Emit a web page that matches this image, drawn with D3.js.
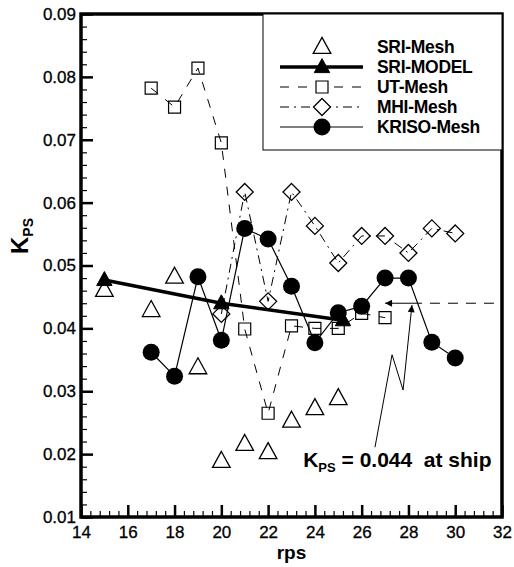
<!DOCTYPE html>
<html><head><meta charset="utf-8">
<script src="https://cdn.jsdelivr.net/npm/d3@7/dist/d3.min.js"></script>
<style>body{margin:0;background:#fff}svg{display:block}text{font-family:"Liberation Sans",Arial,sans-serif;fill:#000}</style>
</head><body>
<svg id="c" width="514" height="567"></svg>
<script>
// ---- data ----
const xTicks = [14,16,18,20,22,24,26,28,30,32];
const yTicks = [0.01,0.02,0.03,0.04,0.05,0.06,0.07,0.08,0.09];
const seriesNames = ["SRI-Mesh","SRI-MODEL","UT-Mesh","MHI-Mesh","KRISO-Mesh"];

const rpsSRIMesh = [15,17,18,19,20,21,22,23,24,25];
const kpsSRIMesh = [0.0461,0.0429,0.0482,0.0338,0.0189,0.0216,0.0203,0.0253,0.0273,0.0289];

const rpsSRIModel = [15,20,25.2];
const kpsSRIModel = [0.0477,0.0440,0.0413];

const rpsUT = [17,18,19,20,21,22,23,24,25,26,27];
const kpsUT = [0.0782,0.0752,0.0814,0.0695,0.0399,0.0265,0.0404,0.0400,0.0400,0.0424,0.0417];

const rpsMHI = [20,21,22,23,24,25,26,27,28,29,30];
const kpsMHI = [0.0423,0.0617,0.0443,0.0617,0.0563,0.0504,0.0547,0.0547,0.0520,0.0559,0.0551];

const rpsKRISO = [17,18,19,20,21,22,23,24,25,26,27,28,29,30];
const kpsKRISO = [0.0362,0.0324,0.0482,0.0381,0.0559,0.0542,0.0467,0.0377,0.0425,0.0435,0.0480,0.0480,0.0378,0.0353];

const shipKps = 0.044;
const shipLineRps = [28.15,32];
const shipArrowRps = [28.15,27.0];
const zigRps = [26.57,27.30,27.77,28.15];
const zigKps = [0.0211,0.0358,0.0302,0.0437];
const noteRps = 23.5, noteKps = 0.0179;

// ---- layout ----
const svg = d3.select("#c");
const L=81,R=502,T=14,B=517;
const x = d3.scaleLinear().domain([14,32]).range([L,R]);
const y = d3.scaleLinear().domain([0.01,0.09]).range([B,T]);

const defs = svg.append("defs");
defs.append("marker").attr("id","ah").attr("viewBox","0 0 10 10").attr("refX",10).attr("refY",5)
  .attr("markerWidth",14).attr("markerHeight",7).attr("markerUnits","userSpaceOnUse").attr("orient","auto")
  .append("path").attr("d","M0,0L10,5L0,10z").attr("fill","#000");
defs.append("clipPath").attr("id","clip").append("rect").attr("x",L).attr("y",T).attr("width",R-L).attr("height",B-T);

// axes with minor ticks (inward)
const xMinor = d3.range(14,32.001,0.4).filter(v=>Math.abs(v/2-Math.round(v/2))>1e-6);
const yMinor = d3.range(0.01,0.0901,0.002).filter(v=>Math.abs(v*100-Math.round(v*100))>1e-6);

const gx = svg.append("g").attr("transform",`translate(0,${B})`)
  .call(d3.axisBottom(x).tickValues(xTicks).tickSize(-12).tickPadding(0).tickFormat(d3.format("d")));
gx.selectAll("text").attr("dy",null).attr("y",21).style("font-size","17px");
gx.selectAll("line").attr("stroke-width",2.5);
svg.append("g").attr("transform",`translate(0,${B})`)
  .call(d3.axisBottom(x).tickValues(xMinor).tickSize(-6).tickFormat(""))
  .call(g=>g.select(".domain").remove()).selectAll("line").attr("stroke-width",1.2);

const gy = svg.append("g").attr("transform",`translate(${L},0)`)
  .call(d3.axisLeft(y).tickValues(yTicks).tickSize(-12).tickPadding(5).tickFormat(d3.format(".2f")));
gy.selectAll("text").style("font-size","17px");
gy.selectAll("line").attr("stroke-width",2.5);
svg.append("g").attr("transform",`translate(${L},0)`)
  .call(d3.axisLeft(y).tickValues(yMinor).tickSize(-6).tickFormat(""))
  .call(g=>g.select(".domain").remove()).selectAll("line").attr("stroke-width",1.2);
svg.selectAll(".domain").remove();
svg.selectAll(".tick text").attr("fill","#000").style("stroke","#000").style("stroke-width","0.3px");

// frame
svg.append("rect").attr("x",L).attr("y",T).attr("width",R-L).attr("height",B-T)
  .attr("fill","none").attr("stroke","#000").attr("stroke-width",3.5);

// axis titles
svg.append("text").attr("x",(L+R)/2).attr("y",559).attr("text-anchor","middle")
  .style("font-size","19px").style("font-weight","bold").text("rps");
const yl = svg.append("text").attr("transform","translate(28,236) rotate(-90)").attr("text-anchor","middle")
  .style("font-weight","bold");
yl.append("tspan").style("font-size","24px").text("K");
yl.append("tspan").style("font-size","14px").attr("dy",5).text("PS");

// legend
const lg = svg.append("g");
lg.append("rect").attr("x",263).attr("y",T).attr("width",R-263).attr("height",136)
  .attr("fill","#fff").attr("stroke","#000").attr("stroke-width",1);

// shape helpers
const tri = (s)=>`M0,${-s*0.6}L${s*0.55},${s*0.4}L${-s*0.55},${s*0.4}Z`;
const sq = (s)=>`M${-s/2},${-s/2}h${s}v${s}h${-s}Z`;
const dia = (s)=>`M0,${-s/2}L${s/2},0L0,${s/2}L${-s/2},0Z`;

const styles = {
  "SRI-Mesh":{line:null, path:tri(16), fill:"none", sw:1.3},
  "SRI-MODEL":{line:{w:3.5,dash:null}, path:tri(14), fill:"#000", sw:1},
  "UT-Mesh":{line:{w:1,dash:"9,9"}, path:sq(12), fill:"none", sw:1.2},
  "MHI-Mesh":{line:{w:1,dash:"9,5,2,5"}, path:dia(17), fill:"none", sw:1.3},
  "KRISO-Mesh":{line:{w:1.2,dash:null}, path:null, fill:"#000", sw:1}
};

const line = d3.line().x(d=>x(d[0])).y(d=>y(d[1]));
const plot = svg.append("g").attr("clip-path","url(#clip)");

function drawSeries(name, rs, ks){
  const st = styles[name];
  const pts = rs.map((r,i)=>[r,ks[i]]);
  if(st.line){
    plot.append("path").datum(pts).attr("d",line).attr("fill","none").attr("stroke","#000")
      .attr("stroke-width",st.line.w).attr("stroke-dasharray",st.line.dash);
  }
  const g = plot.append("g");
  if(name==="KRISO-Mesh"){
    g.selectAll("circle").data(pts).join("circle").attr("cx",d=>x(d[0])).attr("cy",d=>y(d[1])).attr("r",8.5).attr("fill","#000");
  } else {
    g.selectAll("path").data(pts).join("path").attr("transform",d=>`translate(${x(d[0])},${y(d[1])})`)
      .attr("d",st.path).attr("fill",st.fill).attr("stroke","#000").attr("stroke-width",st.sw);
  }
}
drawSeries("UT-Mesh",rpsUT,kpsUT);
drawSeries("MHI-Mesh",rpsMHI,kpsMHI);
drawSeries("KRISO-Mesh",rpsKRISO,kpsKRISO);
drawSeries("SRI-MODEL",rpsSRIModel,kpsSRIModel);
drawSeries("SRI-Mesh",rpsSRIMesh,kpsSRIMesh);

// legend entries
seriesNames.forEach((n,i)=>{
  const yy = 47 + i*20;
  const st = styles[n];
  if(st.line){
    lg.append("line").attr("x1",280).attr("x2",363).attr("y1",yy).attr("y2",yy).attr("stroke","#000")
      .attr("stroke-width",st.line.w).attr("stroke-dasharray",st.line.dash);
  }
  if(n==="KRISO-Mesh"){
    lg.append("circle").attr("cx",322).attr("cy",yy).attr("r",8.5).attr("fill","#000");
  } else {
    lg.append("path").attr("transform",`translate(322,${yy})`).attr("d",st.path)
      .attr("fill",st.fill==="none"?"#fff":st.fill).attr("stroke","#000").attr("stroke-width",st.sw);
  }
  lg.append("text").attr("x",377).attr("y",yy+6).style("font-size","17.5px").style("font-weight","bold")
    .style("letter-spacing","-0.3px").text(n);
});

// annotation
svg.append("line").attr("x1",x(shipLineRps[0])).attr("x2",x(shipLineRps[1])).attr("y1",y(shipKps)).attr("y2",y(shipKps))
  .attr("stroke","#000").attr("stroke-width",1).attr("stroke-dasharray","10,8");
svg.append("line").attr("x1",x(shipArrowRps[0])).attr("x2",x(shipArrowRps[1])).attr("y1",y(shipKps)).attr("y2",y(shipKps))
  .attr("stroke","#000").attr("stroke-width",1).attr("marker-end","url(#ah)");
svg.append("path").datum(zigRps.map((r,i)=>[r,zigKps[i]])).attr("d",line).attr("fill","none")
  .attr("stroke","#000").attr("stroke-width",1).attr("marker-end","url(#ah)");

const note = svg.append("text").attr("x",x(noteRps)).attr("y",y(noteKps)).style("font-weight","bold").style("font-size","21px");
note.append("tspan").text("K");
note.append("tspan").style("font-size","13px").attr("dy",5).text("PS");
note.append("tspan").attr("dy",-5).text(" = 0.044\u00a0\u00a0at ship");
</script>
</body></html>
